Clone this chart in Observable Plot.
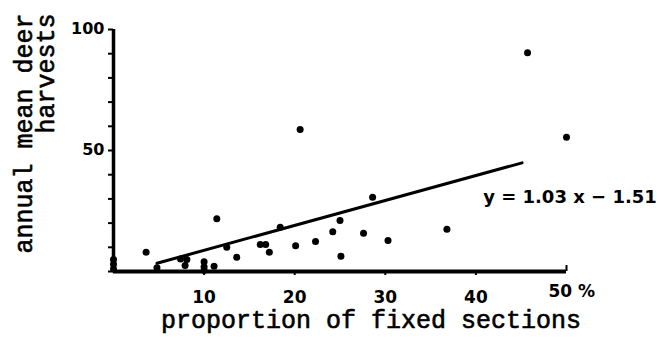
<!DOCTYPE html>
<html><head><meta charset="utf-8">
<script src="https://cdn.jsdelivr.net/npm/d3@7"></script>
<script src="https://cdn.jsdelivr.net/npm/@observablehq/plot@0.6"></script>
<style>html,body{margin:0;padding:0;background:#fff} svg{display:block}</style>
</head><body><div id="chart"></div>
<script>
// proportion of fixed sections (%) and annual mean deer harvests
const proportion = [0, 0, 0, 3.6, 4.8, 7.4, 8.1, 7.9, 10, 10, 10, 11.1, 11.4, 12.5, 13.6, 16.2, 16.8, 17.2, 18.4, 20.1, 20.6, 22.3, 24.2, 25.0, 25.1, 27.6, 28.6, 30.3, 36.8, 45.7, 50.0];
const harvest    = [1, 3, 5, 8.0, 1.5, 5.2, 5.0, 2.5, 4, 2, 0.5, 2.2, 21.8, 10.0, 5.9, 11.2, 11.2, 8.0, 18.3, 10.6, 58.7, 12.4, 16.4, 21.1, 6.3, 15.8, 30.7, 12.8, 17.5, 90.4, 55.5];
// regression line endpoints
const fitX = [4.8, 45.1];
const fitY = [3.4, 44.9];
const xTicks = [10, 20, 30, 40];
const xLastTick = 50;
const xLastLabel = "50 %";
const yTicks = [0, 10, 20, 30, 40, 50, 60, 70, 80, 90, 100];
const yLabelled = [50, 100];
const equation = "y = 1.03 x \u2212 1.51";
const xTitle = "proportion of fixed sections";
const yTitleLines = ["annual mean deer", "harvests"];

const points = proportion.map((p, i) => ({x: p, y: harvest[i]}));
const fit = fitX.map((x, i) => ({x, y: fitY[i]}));

const sansBold = {fontFamily: "DejaVu Sans", fontWeight: "bold", fontSize: 17};
const mono = {fontFamily: "Liberation Mono", fontSize: 25, stroke: "#000", strokeWidth: 0.6, fill: "#000"};

const chart = Plot.plot({
  width: 660, height: 341,
  marginLeft: 113, marginRight: 94, marginTop: 29, marginBottom: 70,
  x: {domain: [0, 50]},
  y: {domain: [0, 100]},
  style: {background: "#fff", color: "#000"},
  marks: [
    Plot.axisX(xTicks, {tickSize: 4, tickPadding: 15, strokeWidth: 2, tickFormat: d => String(d), label: null, ...sansBold}),
    Plot.ruleX([xLastTick], {y1: 0, y2: 2.5, strokeWidth: 2}),
    Plot.text([xLastLabel], {x: xLastTick, y: 0, dx: -18, dy: 20, textAnchor: "start", ...sansBold}),
    Plot.axisY(yTicks, {tickSize: 5, strokeWidth: 2, tickFormat: () => "", label: null}),
    Plot.text(yLabelled, {x: 0, y: d => d, dx: -9, dy: -1, textAnchor: "end", ...sansBold, fontSize: 16}),
    Plot.ruleY([0], {strokeWidth: 4}),
    Plot.ruleX([0], {strokeWidth: 3.5}),
    Plot.line(fit, {x: "x", y: "y", strokeWidth: 3}),
    Plot.dot(points, {x: "x", y: "y", r: 3.5, fill: "#000"}),
    Plot.text([equation], {x: 40.8, y: 30.6, textAnchor: "start", ...sansBold, fontSize: 18}),
    Plot.text([xTitle], {frameAnchor: "bottom", dx: 31, dy: 56, ...mono, ariaLabel: "xtitle"}),
    Plot.text([yTitleLines[0]], {frameAnchor: "top-left", dx: -99, dy: -16, rotate: -90, textAnchor: "end", ...mono, ariaLabel: "ytitle1"}),
    Plot.text([yTitleLines[1]], {frameAnchor: "top-left", dx: -77, dy: -16, rotate: -90, textAnchor: "end", ...mono, ariaLabel: "ytitle2"})
  ]
});
d3.select(chart).select('g[aria-label="xtitle"] text').attr("textLength", 426).attr("lengthAdjust", "spacing");
d3.select(chart).select('g[aria-label="ytitle1"] text').attr("textLength", 245).attr("lengthAdjust", "spacing");
d3.select(chart).select('g[aria-label="ytitle2"] text').attr("textLength", 110).attr("lengthAdjust", "spacing");
document.getElementById("chart").appendChild(chart);
</script>
</body></html>
